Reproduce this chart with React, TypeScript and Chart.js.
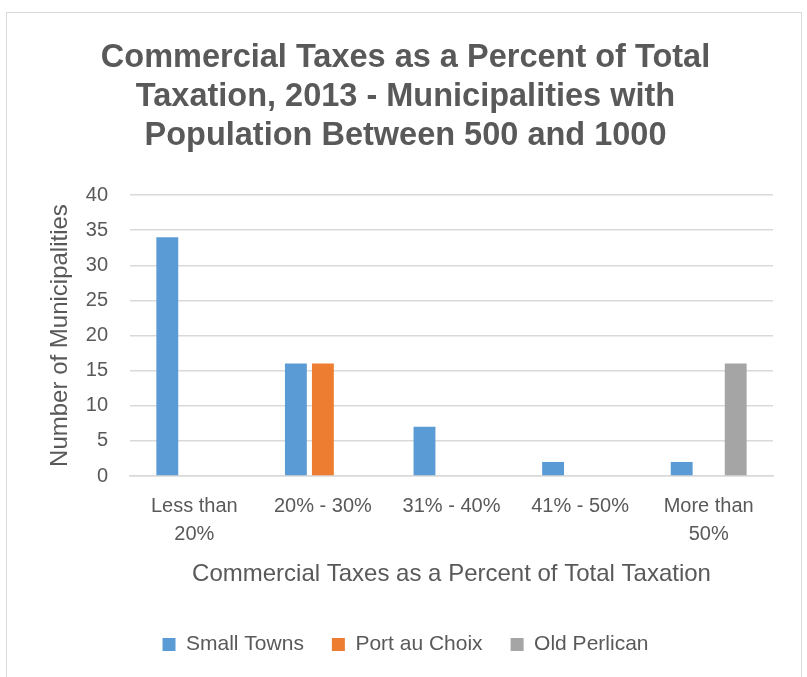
import React, { useEffect, useRef } from "react";
import { Chart, registerables } from "chart.js";

Chart.register(...registerables);

const categories: (string | string[])[] = [
  ["Less than", "20%"],
  "20% - 30%",
  "31% - 40%",
  "41% - 50%",
  ["More than", "50%"],
];
const smallTowns = [34, 16, 7, 2, 2];
const portAuChoix = [0, 16, 0, 0, 0];
const oldPerlican = [0, 0, 0, 0, 16];
const titleLines = [
  "Commercial Taxes as a Percent of Total",
  "Taxation, 2013 - Municipalities with",
  "Population Between 500 and 1000",
];
const xTitle = "Commercial Taxes as a Percent of Total Taxation";
const yTitle = "Number of Municipalities";

const FONT = "'Liberation Sans', Arial, sans-serif";
const TEXT = "#595959";
const GRID = "#d9d9d9";

export default function App() {
  const ref = useRef<HTMLCanvasElement | null>(null);
  useEffect(() => {
    const prevMargin = document.body.style.margin;
    document.body.style.margin = "0";
    if (!ref.current) return;
    const chart = new Chart(ref.current, {
      type: "bar",
      data: {
        labels: categories,
        datasets: [
          { label: "Small Towns", data: smallTowns, backgroundColor: "#5B9BD5" },
          { label: "Port au Choix", data: portAuChoix, backgroundColor: "#ED7D31" },
          { label: "Old Perlican", data: oldPerlican, backgroundColor: "#A5A5A5" },
        ],
      },
      options: {
        responsive: false,
        animation: false,
        categoryPercentage: 0.63,
        barPercentage: 0.81,
        layout: { padding: { left: 38, right: 34, top: 0, bottom: 12 } },
        plugins: {
          tooltip: { enabled: false },
          title: {
            display: true,
            text: titleLines,
            color: TEXT,
            font: { family: FONT, size: 32.5, weight: "bold", lineHeight: 1.19 },
            padding: { top: 39, bottom: 40 },
          },
          legend: {
            position: "bottom",
            labels: {
              color: TEXT,
              font: { family: FONT, size: 21 },
              boxWidth: 13,
              boxHeight: 13,
              padding: 28,
            },
          },
        },
        scales: {
          x: {
            grid: { display: false, drawTicks: false },
            border: { display: true, color: GRID, width: 1.5 },
            ticks: {
              color: TEXT,
              font: { family: FONT, size: 20, lineHeight: 1.37 },
              padding: 17,
              maxRotation: 0,
              autoSkip: false,
            },
            title: {
              display: true,
              text: xTitle,
              color: TEXT,
              font: { family: FONT, size: 24 },
              padding: { top: 4, bottom: 17 },
            },
            afterFit: (s: any) => {
              s.height = 130;
            },
          },
          y: {
            min: 0,
            max: 40,
            ticks: {
              stepSize: 5,
              color: TEXT,
              font: { family: FONT, size: 20 },
              padding: 22,
            },
            grid: { color: GRID, lineWidth: 1.5, drawTicks: false },
            border: { display: false },
            title: {
              display: true,
              text: yTitle,
              color: TEXT,
              font: { family: FONT, size: 24 },
              padding: { top: 8, bottom: 4 },
            },
            afterFit: (s: any) => {
              s.width = 92;
            },
          },
        },
      },
    });
    return () => {
      chart.destroy();
      document.body.style.margin = prevMargin;
    };
  }, []);

  return (
    <div
      style={{
        position: "absolute",
        left: 0,
        top: 0,
        width: 807,
        height: 677,
        overflow: "hidden",
        background: "#ffffff",
      }}
    >
      <div
        style={{
          position: "absolute",
          left: 6,
          top: 12,
          width: 794,
          height: 720,
          border: "1.5px solid " + GRID,
        }}
      />
      <canvas
        ref={ref}
        width={807}
        height={677}
        style={{ position: "absolute", left: 0, top: 0, width: 807, height: 677 }}
      />
    </div>
  );
}
